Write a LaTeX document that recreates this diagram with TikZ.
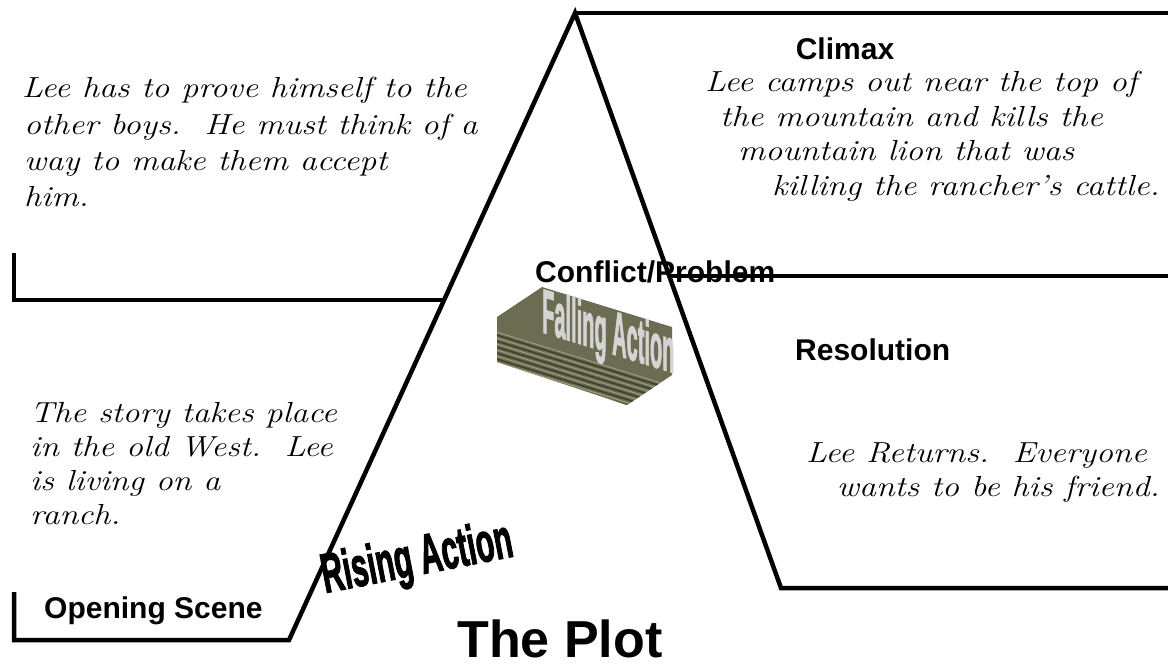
\documentclass[tikz,border=0pt]{standalone}
\usepackage{fontspec}
\newfontfamily\headfont{Liberation Sans}
\newfontfamily\impactfont[BoldFeatures={FakeBold=2.5}]{Liberation Sans}
\newcommand\handfont{\itshape\fontsize{29}{29}\selectfont}
\definecolor{olvA}{RGB}{108,108,82}
\definecolor{olvD}{RGB}{64,64,46}
\definecolor{olvL}{RGB}{160,160,130}
\definecolor{faceC}{RGB}{212,212,212}
\tikzset{
  ln/.style={line width=4.5pt, line join=miter, line cap=butt},
  hand/.style={font=\handfont, inner sep=0pt, xscale=1.17},
  head/.style={font={\headfont\bfseries\fontsize{30}{30}\selectfont}, inner sep=0pt},
}
\begin{document}
\begin{tikzpicture}[x=1pt,y=1pt]
\useasboundingbox (0,0) rectangle (1168,-669);
\fill[white] (0,0) rectangle (1168,-669);

% coordinates
\coordinate (osTop) at (14,-592);
\coordinate (osCorner) at (14,-640);
\coordinate (osEnd) at (289,-640);
\coordinate (apex) at (575,-13);
\coordinate (resCorner) at (781,-588);
\coordinate (resEnd) at (1168,-588);
\coordinate (tlTop) at (14,-253);
\coordinate (tlCorner) at (14,-300);
\coordinate (tlEnd) at (444,-300);
\coordinate (topStart) at (577,-13);
\coordinate (topEnd) at (1168,-13);
\coordinate (midStart) at (670,-276);
\coordinate (midEnd) at (1168,-276);

% headings
\node[head, anchor=base] (climax) at (845,-60) {Climax};
\node[head, anchor=base west] (conflict) at (535,-282) {Conflict/Problem};
\node[head, anchor=base west] (resolution) at (795,-360) {Resolution};
\node[head, anchor=base west] (opening) at (44,-618) {Opening Scene};
\node[inner sep=0pt, anchor=base, font={\headfont\bfseries\fontsize{52}{52}\selectfont}] (plot) at (560,-657) {The Plot};

% top-left paragraph
\node[hand, anchor=base west] (p1a) at (22,-98) {Lee has to prove himself to the};
\node[hand, anchor=base west] (p1b) at (24,-134) {other boys.\ \ He must think of a};
\node[hand, anchor=base west] (p1c) at (24,-170) {way to make them accept};
\node[hand, anchor=base west] (p1d) at (24,-206) {him.};

% climax paragraph
\node[hand, anchor=base west] (p2a) at (705,-92) {Lee camps out near the top of};
\node[hand, anchor=base west] (p2b) at (720,-126) {the mountain and kills the};
\node[hand, anchor=base west] (p2c) at (738,-160) {mountain lion that was};
\node[hand, anchor=base east] (p2d) at (1160,-195) {killing the rancher’s cattle.};

% story paragraph
\node[hand, anchor=base west] (p3a) at (30,-422) {The story takes place};
\node[hand, anchor=base west] (p3b) at (30,-456) {in the old West.\ \ Lee};
\node[hand, anchor=base west] (p3c) at (30,-490) {is living on a};
\node[hand, anchor=base west] (p3d) at (30,-524) {ranch.};

% resolution paragraph
\node[hand, anchor=base west] (p4a) at (806,-462) {Lee Returns.\ \ Everyone};
\node[hand, anchor=base east] (p4b) at (1160,-496) {wants to be his friend.};

% Rising Action
\node[rotate=11, yscale=1.85, inner sep=0pt, anchor=base west, font={\impactfont\bfseries\fontsize{30}{30}\selectfont}] (rise) at (325,-593) {Rising Action};

% Falling Action extrusion
\fill[olvA] (542,-287) -- (497,-317) -- (497,-362) -- (627,-405) -- (672,-375) -- (672,-327) -- cycle;
\begin{scope}
  \clip (542,-287) -- (497,-317) -- (497,-362) -- (627,-405) -- (672,-375) -- (672,-327) -- cycle;
  \foreach \yy [count=\k] in {330,333,...,366} {
    \pgfmathsetmacro{\ci}{mod(\k,2)}
    \ifdim\ci pt<0.5pt
      \draw[olvD, line width=1.6pt] (490,-\yy) -- (690,-\yy-62);
    \else
      \draw[olvL, line width=0.9pt] (490,-\yy) -- (690,-\yy-62);
    \fi
  }
\end{scope}
\node[yslant=-0.31, yscale=3.1, inner sep=0pt, anchor=base west, text=faceC, font={\impactfont\bfseries\fontsize{20}{20}\selectfont}] (fall) at (542,-332) {Falling Action};

% lines
\draw[ln] (osTop) -- (osCorner) -- (osEnd) -- (apex) -- (resCorner) -- (resEnd);
\draw[ln] (tlTop) -- (tlCorner) -- (tlEnd);
\draw[ln] (topStart) -- (topEnd);
\draw[ln] (midStart) -- (midEnd);
\end{tikzpicture}
\end{document}
